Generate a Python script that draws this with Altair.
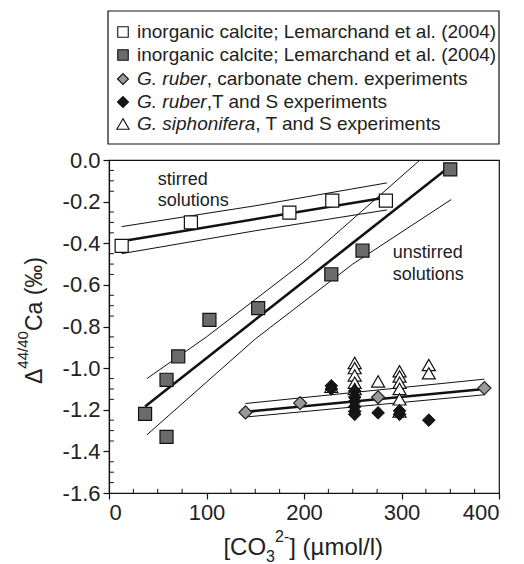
import altair as alt
import pandas as pd

# ---------------- data ----------------
stirred_x = [13, 84, 185, 229, 284]
stirred_y = [-0.413, -0.300, -0.253, -0.195, -0.195]

unstirred_x = [37, 59, 59, 71, 103, 153, 228, 260, 350]
unstirred_y = [-1.22, -1.056, -1.33, -0.944, -0.768, -0.712, -0.549, -0.435, -0.045]

ruber_carb_x = [140, 196, 276, 385]
ruber_carb_y = [-1.213, -1.168, -1.140, -1.096]

ruber_ts_x = [228, 228, 252, 252, 252, 252, 252, 252, 276, 298, 298, 328]
ruber_ts_y = [-1.085, -1.100, -1.110, -1.140, -1.160, -1.185, -1.208, -1.222, -1.215, -1.205, -1.222, -1.250]

siph_x = [228, 252, 252, 252, 252, 252, 276, 298, 298, 298, 298, 298, 298, 328, 328]
siph_y = [-1.09, -0.975, -1.000, -1.035, -1.070, -1.100, -1.064, -1.015, -1.040, -1.070, -1.100, -1.150, -1.208, -0.985, -1.025]

# regression lines (thick) and confidence bands (thin)
fit_lines = {
    "stirred": ([13, 284], [-0.39, -0.18]),
    "unstirred": ([37, 345], [-1.184, -0.048]),
    "ruber": ([140, 385], [-1.21, -1.10]),
}
band_lines = {
    "stirred_hi": ([13, 150, 285], [-0.32, -0.22, -0.11]),
    "stirred_lo": ([13, 150, 285], [-0.45, -0.34, -0.24]),
    "unstirred_hi": ([39, 100, 200, 319], [-1.05, -0.85, -0.49, 0.0]),
    "unstirred_lo": ([39, 150, 250, 351], [-1.32, -0.86, -0.50, -0.19]),
    "ruber_hi": ([140, 385], [-1.17, -1.053]),
    "ruber_lo": ([140, 385], [-1.235, -1.128]),
}

annot_text = ["stirred", "solutions", "unstirred", "solutions"]
annot_x = [50, 50, 291, 291]
annot_y = [-0.096, -0.197, -0.446, -0.552]

x_ticks = [0, 100, 200, 300, 400]
y_ticks = [0.0, -0.2, -0.4, -0.6, -0.8, -1.0, -1.2, -1.4, -1.6]
x_minor = [v for v in range(25, 400, 25) if v % 100 != 0]
y_minor = [round(-0.05 * i, 2) for i in range(1, 32) if i % 4 != 0]

legend_italic = ["", "", "G. ruber", "G. ruber", "G. siphonifera"]
legend_rest = [
    "inorganic calcite; Lemarchand et al. (2004)",
    "inorganic calcite; Lemarchand et al. (2004)",
    ", carbonate chem. experiments",
    ",T and S experiments",
    ", T and S experiments",
]
legend_shape = ["square", "square", "diamond", "diamond", "triangle-up"]
legend_fill = ["white", "#6b6b6b", "#9a9a9a", "#151515", "white"]
legend_size = [110, 110, 120, 120, 150]

# ---------------- helpers ----------------
FONT = "Liberation Sans"
W = {' ': 278, '.': 278, ',': 278, 'G': 778, 'r': 333, 'u': 556, 'b': 556, 'e': 556,
     's': 500, 'i': 222, 'p': 556, 'h': 556, 'o': 556, 'n': 556, 'f': 278, 'a': 556,
     '4': 556, '0': 556, '/': 278, 'Δ': 668, 'C': 722, '(': 333, ')': 333, '‰': 1000,
     '[': 278, ']': 278, 'O': 778, '3': 556, '2': 556, '-': 333, 'µ': 556, 'm': 833,
     'l': 222}


def tw(s, size):
    return sum(W.get(c, 556) for c in s) * size / 1000.0


PW, PH = 390, 333

xscale = alt.Scale(domain=[0, 400], nice=False, zero=False)
yscale = alt.Scale(domain=[-1.6, 0], nice=False, zero=False)

X = alt.X("x:Q", scale=xscale, axis=alt.Axis(values=x_ticks, title=None, format="d",
                                              tickSize=6, labelPadding=3, grid=False))
Y = alt.Y("y:Q", scale=yscale, axis=alt.Axis(
    values=y_ticks, title=None, tickSize=6, labelPadding=3, grid=False,
    labelExpr="replace(format(datum.value, '.1f'), '\u2212', '-')"))


def pts(xs, ys):
    return pd.DataFrame({"x": xs, "y": ys})


def lines_df(d):
    rows = []
    for k, (xs, ys) in d.items():
        for a, b in zip(xs, ys):
            rows.append({"x": a, "y": b, "line": k})
    return pd.DataFrame(rows)


# ---------------- plot layers ----------------
bands = alt.Chart(lines_df(band_lines)).mark_line(color="#111", strokeWidth=1, clip=True).encode(
    x=X, y=Y, detail="line:N")
fits = alt.Chart(lines_df(fit_lines)).mark_line(color="#111", strokeWidth=2.6, clip=True).encode(
    x=X, y=Y, detail="line:N")

open_sq = alt.Chart(pts(stirred_x, stirred_y)).mark_point(
    shape="square", filled=True, fill="white", stroke="#111", strokeWidth=1.2, size=170, opacity=1
).encode(x=X, y=Y)
gray_sq = alt.Chart(pts(unstirred_x, unstirred_y)).mark_point(
    shape="square", filled=True, fill="#6b6b6b", stroke="#111", strokeWidth=1.2, size=170, opacity=1
).encode(x=X, y=Y)
tri = alt.Chart(pts(siph_x, siph_y)).mark_point(
    shape="triangle-up", filled=True, fill="white", stroke="#111", strokeWidth=1.2, size=170, opacity=1
).encode(x=X, y=Y)
blk = alt.Chart(pts(ruber_ts_x, ruber_ts_y)).mark_point(
    shape="diamond", filled=True, fill="#151515", stroke="#111", strokeWidth=1, size=160, opacity=1
).encode(x=X, y=Y)
gdia = alt.Chart(pts(ruber_carb_x, ruber_carb_y)).mark_point(
    shape="diamond", filled=True, fill="#9a9a9a", stroke="#222", strokeWidth=1.2, size=170, opacity=1
).encode(x=X, y=Y)

annot = alt.Chart(pd.DataFrame({"x": annot_x, "y": annot_y, "t": annot_text})).mark_text(
    align="left", baseline="middle", font=FONT, fontSize=18, color="#222"
).encode(x=X, y=Y, text="t:N")

xminor = alt.Chart(pd.DataFrame({"x": x_minor, "y": [-1.6] * len(x_minor), "y2": [-1.58] * len(x_minor)})).mark_rule(
    color="#111", strokeWidth=1).encode(x=X, y=Y, y2="y2:Q")
yminor = alt.Chart(pd.DataFrame({"y": y_minor, "x": [0] * len(y_minor), "x2": [5] * len(y_minor)})).mark_rule(
    color="#111", strokeWidth=1).encode(x=X, y=Y, x2="x2:Q")

# composed axis titles (super/subscripts)
ypieces = [("Δ", 23, 0), ("44/40", 15, -14), ("Ca (‰)", 23, 0)]
ytot = sum(tw(s, f) for s, f, _ in ypieces)
ypos = 160.5 + ytot / 2
ytitle_layers = []
for s, f, sh in ypieces:
    ytitle_layers.append(alt.Chart(pd.DataFrame({"t": [s]})).mark_text(
        align="left", baseline="alphabetic", angle=270, font=FONT, fontSize=f, color="#222"
    ).encode(x=alt.value(-67 + sh), y=alt.value(ypos), text="t:N"))
    ypos -= tw(s, f)

xpieces = [("[CO", 24, 0), ("3", 16, 7), ("2-", 16, -13), ("] (µmol/l)", 24, 0)]
xtot = sum(tw(s, f) for s, f, _ in xpieces)
xpos = 194 - xtot / 2
xtitle_layers = []
for s, f, sh in xpieces:
    xtitle_layers.append(alt.Chart(pd.DataFrame({"t": [s]})).mark_text(
        align="left", baseline="alphabetic", font=FONT, fontSize=f, color="#222"
    ).encode(x=alt.value(xpos), y=alt.value(395 + sh), text="t:N"))
    xpos += tw(s, f)

# ---------------- legend (drawn above the plot area, pixel positions) ----------------
LFS = 19
row_py = [-128, -105, -81, -58, -36]
leg = pd.DataFrame({
    "py": row_py,
    "ital": legend_italic,
    "rest": legend_rest,
    "shape": legend_shape,
    "fill": legend_fill,
    "size": legend_size,
    "sx": [14] * 5,
    "tx": [28] * 5,
    "rx": [28 + tw(s, LFS) for s in legend_italic],
})
LYE = alt.Y("py:Q", scale=None)
legbox = alt.Chart(pd.DataFrame({"a": [0]})).mark_rect(
    fill="white", stroke="#111", strokeWidth=1.2
).encode(x=alt.value(-1), x2=alt.value(390), y=alt.value(-149), y2=alt.value(-16))
lsym = alt.Chart(leg).mark_point(filled=True, stroke="#111", strokeWidth=1.1, opacity=1).encode(
    x=alt.X("sx:Q", scale=None), y=LYE,
    shape=alt.Shape("shape:N", scale=None), fill=alt.Fill("fill:N", scale=None),
    size=alt.Size("size:Q", scale=None))
lital = alt.Chart(leg).mark_text(align="left", baseline="middle", font=FONT, fontSize=LFS,
                                 fontStyle="italic", color="#222").encode(
    x=alt.X("tx:Q", scale=None), y=LYE, text="ital:N")
lrest = alt.Chart(leg).mark_text(align="left", baseline="middle", font=FONT, fontSize=LFS,
                                 color="#222").encode(
    x=alt.X("rx:Q", scale=None), y=LYE, text="rest:N")

chart = alt.layer(
    bands, fits, open_sq, gray_sq, tri, blk, gdia, annot, xminor, yminor,
    *ytitle_layers, *xtitle_layers, legbox, lsym, lital, lrest
).properties(
    width=PW, height=PH,
    autosize=alt.AutoSizeParams(type="none"),
    padding={"left": 109, "top": 160, "right": 25, "bottom": 71},
    background="white",
).configure_view(stroke="#111", strokeWidth=1.2).configure_axis(
    domainColor="#111", tickColor="#111", labelFont=FONT, labelFontSize=22, labelColor="#222",
    domainWidth=1.2, tickWidth=1.2
)

chart.save("out.html", embed_options={"renderer": "svg", "actions": False})
